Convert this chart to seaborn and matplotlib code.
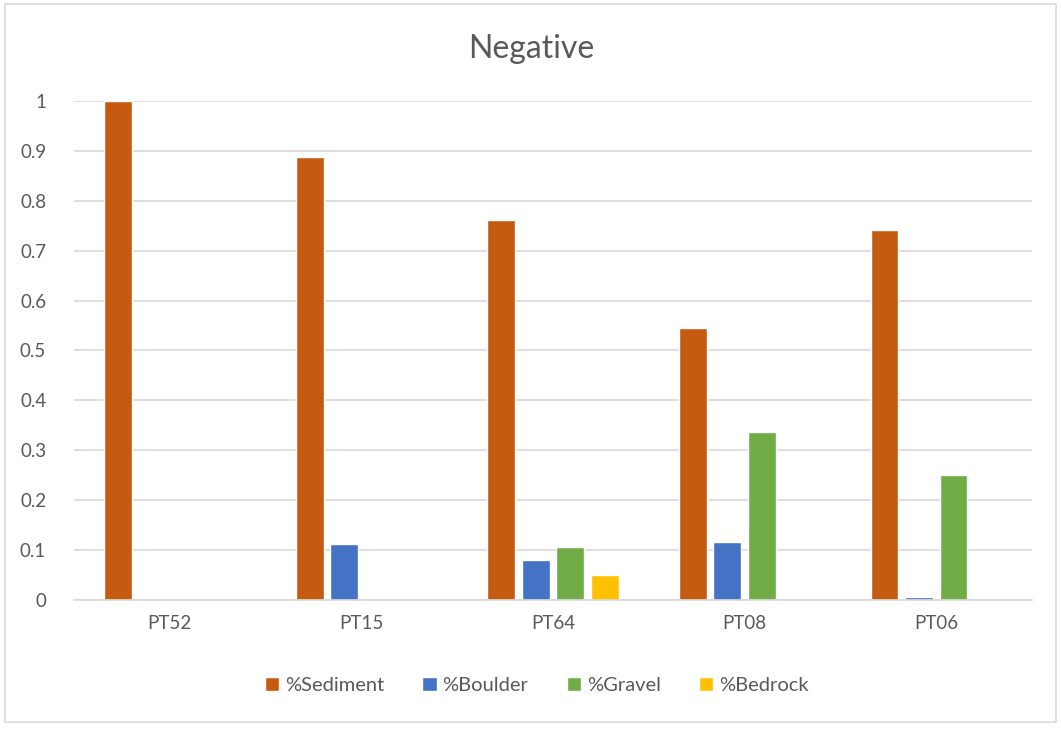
import pandas as pd
import numpy as np
import matplotlib.pyplot as plt
import seaborn as sns
from matplotlib.patches import Rectangle

# values
sites = ["PT52", "PT15", "PT64", "PT08", "PT06"]
sediment = [1.0, 0.888, 0.762, 0.545, 0.742]
boulder = [0.0, 0.112, 0.080, 0.116, 0.006]
gravel = [0.0, 0.0, 0.106, 0.337, 0.250]
bedrock = [0.0, 0.0, 0.050, 0.0, 0.0]

series_names = ["%Sediment", "%Boulder", "%Gravel", "%Bedrock"]
colors = ["#C55A11", "#4472C4", "#70AD47", "#FFC000"]

df = pd.DataFrame({"site": sites, "%Sediment": sediment, "%Boulder": boulder,
                   "%Gravel": gravel, "%Bedrock": bedrock})
long_df = df.melt(id_vars="site", var_name="type", value_name="fraction")

sns.set_theme(style="white")
plt.rcParams['font.family'] = ['Lato', 'DejaVu Sans']

fig = plt.figure(figsize=(10.61, 7.29), dpi=100)
ax = fig.add_axes([0.0697, 0.177, 0.903, 0.6845])

sns.barplot(data=long_df, x="site", y="fraction", hue="type",
            hue_order=series_names, palette=colors, width=0.72, gap=0.19,
            order=sites, ax=ax, saturation=1, legend=True)

ax.set_ylim(0, 1)
ax.set_xlim(-0.5, len(sites) - 0.5)
ax.set_yticks(np.arange(0, 1.01, 0.1))
ax.set_yticklabels(["0", "0.1", "0.2", "0.3", "0.4", "0.5", "0.6", "0.7", "0.8", "0.9", "1"])
ax.yaxis.grid(True, color="#D9D9D9", linewidth=1.2)
ax.set_axisbelow(True)
for s in ["top", "right", "left"]:
    ax.spines[s].set_visible(False)
ax.spines["bottom"].set_color("#D9D9D9")
ax.spines["bottom"].set_linewidth(1.2)
ax.tick_params(axis="both", colors="#595959", labelsize=13.5, length=0)
ax.tick_params(axis="y", pad=20)
ax.tick_params(axis="x", pad=11)
ax.set_xlabel("")
ax.set_ylabel("")

fig.text(0.501, 0.933, "Negative", fontsize=23, color="#595959",
         ha="center", va="center")

handles, labels = ax.get_legend_handles_labels()
ax.legend_.remove()
fig.legend(handles, labels, loc="center", bbox_to_anchor=(0.506, 0.06), ncol=4,
           frameon=False, fontsize=14.5, handlelength=0.7, handleheight=0.7,
           handletextpad=0.3, columnspacing=1.9, labelcolor="#595959")

fig.patches.append(Rectangle((0.005, 0.01), 0.99, 0.985, transform=fig.transFigure,
                             fill=False, edgecolor="#D9D9D9", linewidth=1.2))

plt.savefig("out.png", dpi=100)
